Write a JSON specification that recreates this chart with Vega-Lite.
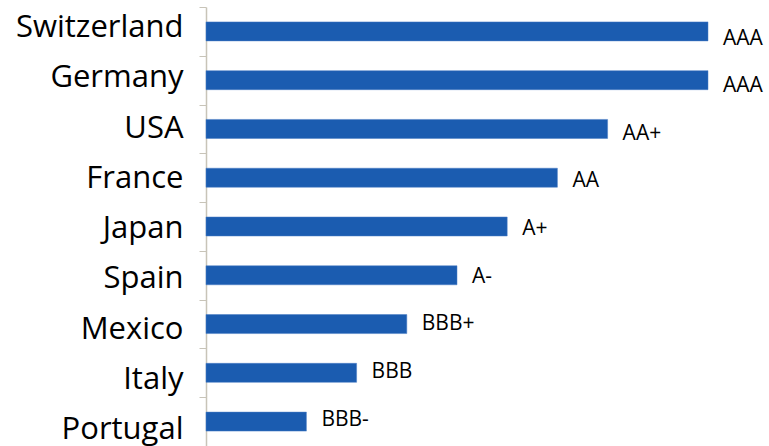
{
  "$schema": "https://vega.github.io/schema/vega-lite/v6.json",
  "width": 502,
  "height": 439,
  "autosize": {"type": "none"},
  "padding": {"left": 206, "top": 7, "right": 61, "bottom": 0},
  "background": "white",
  "config": {"view": {"stroke": null}, "font": "Open Sans"},
  "data": {
    "values": [
      {"country": "Switzerland", "score": 10, "rating": "AAA"},
      {"country": "Germany", "score": 10, "rating": "AAA"},
      {"country": "USA", "score": 8, "rating": "AA+"},
      {"country": "France", "score": 7, "rating": "AA"},
      {"country": "Japan", "score": 6, "rating": "A+"},
      {"country": "Spain", "score": 5, "rating": "A-"},
      {"country": "Mexico", "score": 4, "rating": "BBB+"},
      {"country": "Italy", "score": 3, "rating": "BBB"},
      {"country": "Portugal", "score": 2, "rating": "BBB-"}
    ]
  },
  "layer": [
    {
      "mark": {"type": "bar", "color": "#1b5cb0", "stroke": "#4a7cc4", "strokeWidth": 0.5, "height": {"band": 0.39}},
      "encoding": {
        "y": {
          "field": "country",
          "type": "nominal",
          "sort": null,
          "scale": {"type": "band", "paddingInner": 0, "paddingOuter": 0},
          "axis": {
            "orient": "left",
            "title": null,
            "labels": false,
            "domainColor": "#c8c4b8",
            "domainWidth": 1.5,
            "tickColor": "#c8c4b8",
            "tickSize": 7,
            "tickWidth": 1,
            "tickBand": "extent"
          }
        },
        "x": {
          "field": "score",
          "type": "quantitative",
          "scale": {"domain": [0, 10], "nice": false},
          "axis": null
        }
      }
    },
    {
      "mark": {"type": "text", "align": "left", "baseline": "middle", "dx": 15, "font": "Open Sans", "fontSize": 21, "color": "#000000"},
      "encoding": {
        "y": {
          "field": "country",
          "type": "nominal",
          "sort": null,
          "scale": {"type": "point", "padding": 0, "range": [31.5, 412.5]},
          "axis": null
        },
        "x": {
          "field": "score",
          "type": "quantitative",
          "scale": {"domain": [0, 10], "nice": false},
          "axis": null
        },
        "text": {"field": "rating"}
      }
    },
    {
      "mark": {"type": "text", "opacity": 0},
      "encoding": {
        "y": {
          "field": "country",
          "type": "nominal",
          "sort": null,
          "scale": {"type": "point", "padding": 0, "range": [20.5, 422.5]},
          "axis": {
            "orient": "left",
            "title": null,
            "domain": false,
            "ticks": false,
            "tickSize": 0,
            "labelFont": "Open Sans",
            "labelFontSize": 31,
            "labelColor": "#000000",
            "labelPadding": 23,
            "labelLimit": 300
          }
        },
        "text": {"field": "country"}
      }
    }
  ],
  "resolve": {"scale": {"y": "independent"}, "axis": {"y": "independent"}}
}
